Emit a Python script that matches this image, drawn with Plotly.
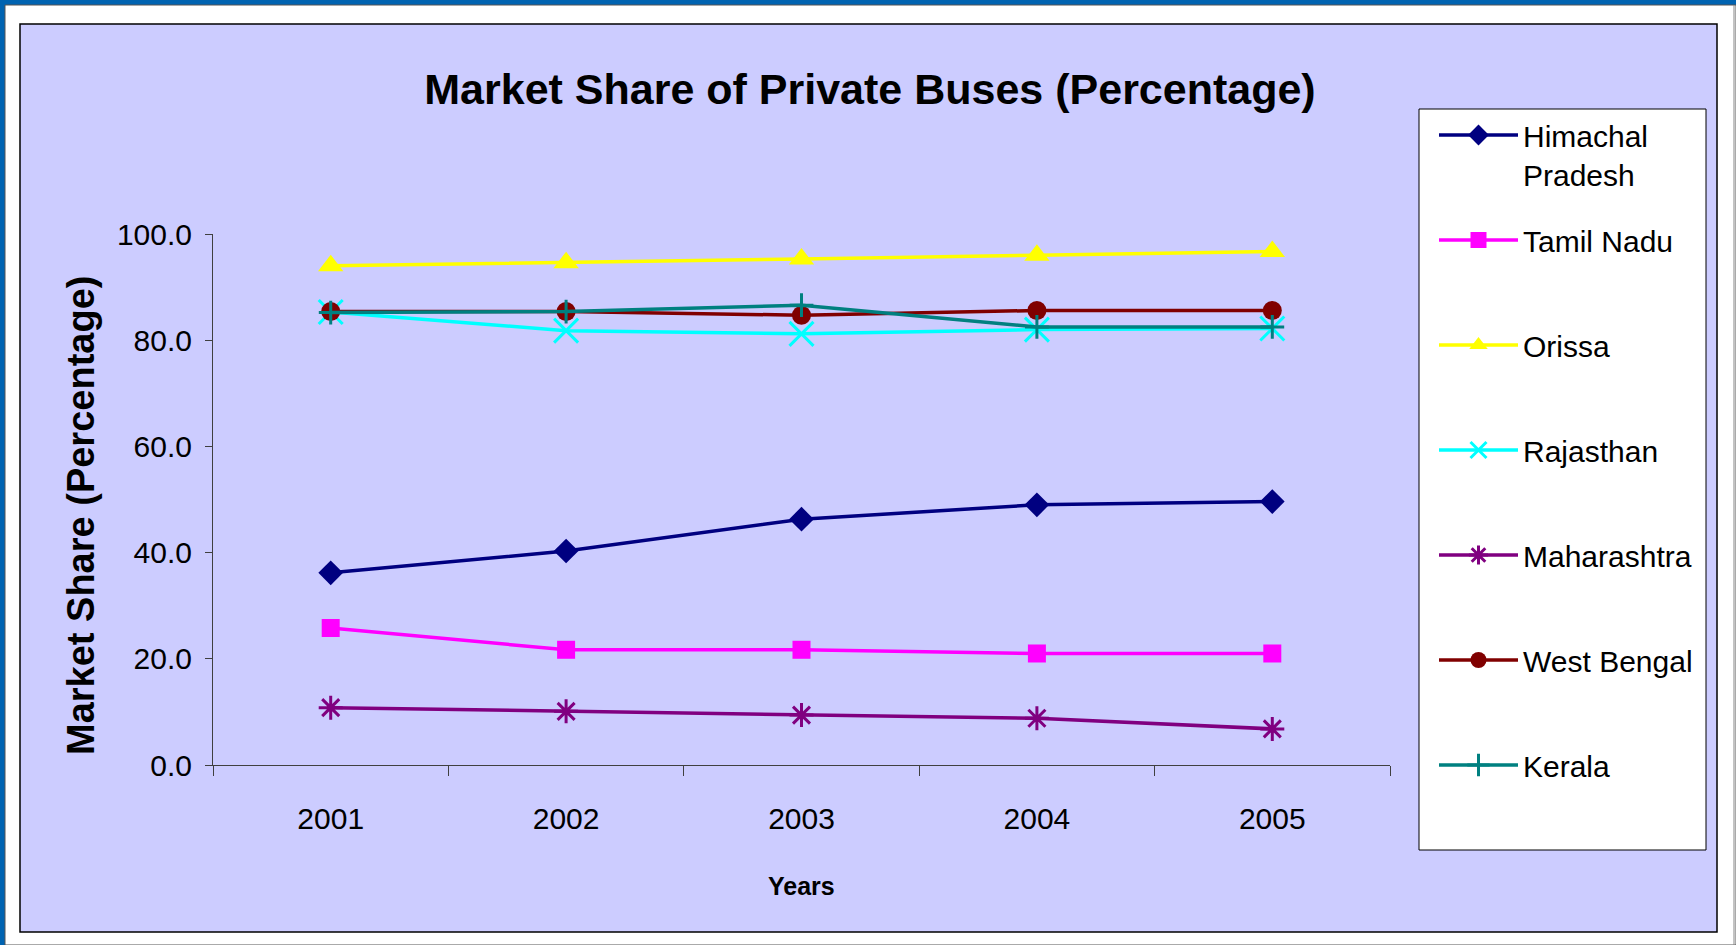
import plotly.graph_objects as go

# ---- data -------------------------------------------------------------
years = ["2001", "2002", "2003", "2004", "2005"]

himachal_pradesh = [36.2, 40.3, 46.3, 49.0, 49.6]
tamil_nadu = [25.8, 21.7, 21.7, 21.0, 21.0]
orissa = [94.0, 94.6, 95.3, 96.0, 96.7]
rajasthan = [85.3, 81.8, 81.2, 82.0, 82.2]
maharashtra = [10.8, 10.1, 9.4, 8.8, 6.8]
west_bengal = [85.4, 85.4, 84.7, 85.6, 85.6]
kerala = [85.2, 85.4, 86.6, 82.5, 82.5]

y_ticks = [0, 20, 40, 60, 80, 100]

# ---- page geometry (pixels) ----------------------------------------------
W, H = 1736, 945
L, R, T, B = 213, 1390, 234, 765          # plot area edges

def px(x):
    return (x - L) / (R - L)

def py(y):
    return (B - y) / (B - T)

SANS = "Liberation Sans, Arial, Helvetica, sans-serif"

series = [
    ("Himachal<br>Pradesh", himachal_pradesh, "#000080",
     dict(symbol="diamond", size=19, color="#000080")),
    ("Tamil Nadu<br> ", tamil_nadu, "#FF00FF",
     dict(symbol="square", size=18, color="#FF00FF")),
    ("Orissa<br> ", orissa, "#FFFF00",
     dict(symbol="triangle-up", size=22, color="#FFFF00")),
    ("Rajasthan<br> ", rajasthan, "#00FFFF",
     dict(symbol="x-thin-open", size=24, color="#00FFFF",
          line=dict(color="#00FFFF", width=3))),
    ("Maharashtra<br> ", maharashtra, "#800080",
     dict(symbol="asterisk-open", size=20, color="#800080",
          line=dict(color="#800080", width=3))),
    ("West Bengal<br> ", west_bengal, "#800000",
     dict(symbol="circle", size=19, color="#800000")),
    ("Kerala<br> ", kerala, "#008080",
     dict(symbol="cross-thin-open", size=17, color="#008080",
          line=dict(color="#008080", width=3))),
]

fig = go.Figure()
for i, (name, vals, color, marker) in enumerate(series):
    fig.add_trace(go.Scatter(
        x=years, y=vals, name=name, mode="lines+markers",
        line=dict(color=color, width=3.5),
        marker=marker,
        legendgroup=f"g{i}",
    ))

# framing: blue edge, white band, lavender chart area, legend box
shapes = [
    dict(type="rect", xref="paper", yref="paper",
         x0=px(0), x1=px(W), y0=py(H), y1=py(0),
         fillcolor="#0063B1", line=dict(width=0), layer="below"),
    dict(type="rect", xref="paper", yref="paper",
         x0=px(5), x1=px(W), y0=py(H), y1=py(5),
         fillcolor="white", line=dict(color="#555555", width=1), layer="below"),
    dict(type="line", xref="paper", yref="paper",
         x0=px(1734), x1=px(1734), y0=py(H), y1=py(5),
         line=dict(color="#888888", width=1), layer="below"),
    dict(type="rect", xref="paper", yref="paper",
         x0=px(20), x1=px(1717), y0=py(932), y1=py(24),
         fillcolor="#CCCCFF", line=dict(color="black", width=1.5), layer="below"),
    dict(type="rect", xref="paper", yref="paper",
         x0=px(1419), x1=px(1706), y0=py(850), y1=py(109),
         fillcolor="white", line=dict(color="black", width=1), layer="below"),
]

fig.update_layout(
    width=W, height=H,
    margin=dict(l=L, r=W - R, t=T, b=H - B, pad=0, autoexpand=False),
    paper_bgcolor="white",
    plot_bgcolor="rgba(0,0,0,0)",
    shapes=shapes,
    title=dict(
        text="<b>Market Share of Private Buses (Percentage)</b>",
        font=dict(family=SANS, size=43, color="black"),
        x=870 / W, xanchor="center", xref="container",
        y=1 - 89 / H, yanchor="middle", yref="container",
    ),
    showlegend=True,
    legend=dict(
        x=px(1434), y=py(109), xanchor="left", yanchor="top",
        bgcolor="rgba(0,0,0,0)", borderwidth=0,
        font=dict(family=SANS, size=30, color="black"),
        valign="top", traceorder="grouped", tracegroupgap=24,
        itemwidth=79, maxheight=900,
    ),
    annotations=[
        dict(text="<b>Market Share (Percentage)</b>", textangle=-90,
             xref="paper", yref="paper", x=px(81), y=py(516),
             xanchor="center", yanchor="middle", showarrow=False,
             font=dict(family=SANS, size=38, color="black")),
        dict(text="<b>Years</b>",
             xref="paper", yref="paper", x=px(801), y=py(886),
             xanchor="center", yanchor="middle", showarrow=False,
             font=dict(family=SANS, size=25, color="black")),
    ],
)

fig.update_xaxes(
    type="category", range=[-0.5, 4.5], automargin=False,
    showgrid=False, zeroline=False,
    showline=True, linecolor="#404040", linewidth=1,
    ticks="outside", tickson="boundaries", ticklen=10,
    tickcolor="#404040", tickwidth=1,
    ticklabelstandoff=27,
    tickfont=dict(family=SANS, size=30, color="black"),
)
fig.update_yaxes(
    range=[0, 100], tickvals=y_ticks, tickformat=".1f", automargin=False,
    showgrid=False, zeroline=False,
    showline=True, linecolor="#404040", linewidth=1,
    ticks="outside", ticklen=7, tickcolor="#404040", tickwidth=1,
    ticklabelstandoff=7,
    tickfont=dict(family=SANS, size=30, color="black"),
)

fig.write_html("out.html")
